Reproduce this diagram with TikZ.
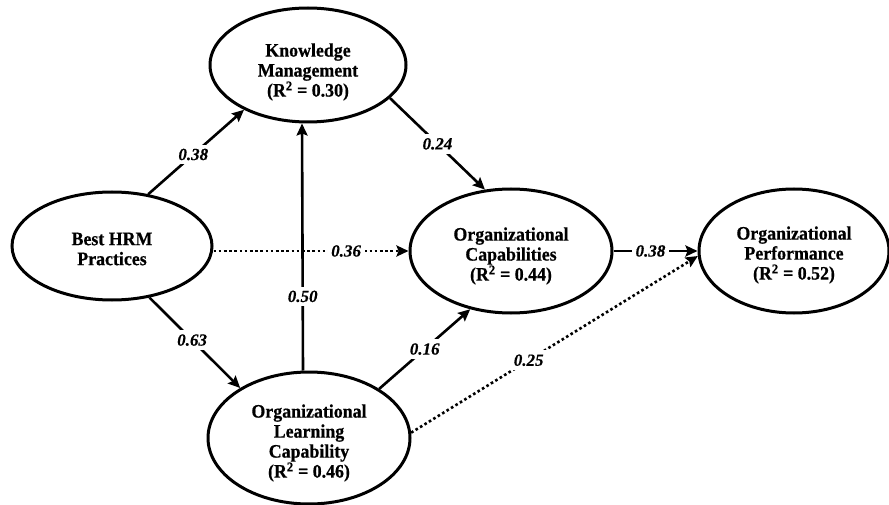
\documentclass[tikz,border=0pt]{standalone}
\usepackage{fontspec}
\setmainfont{Liberation Serif}
\newfontfamily\nodefont[FakeBold=0.6,FakeStretch=0.94]{Liberation Serif Bold}
\newfontfamily\coeffont[FakeBold=0.4]{Liberation Serif Bold Italic}
\usetikzlibrary{arrows.meta,shapes.geometric}
\begin{document}
\begin{tikzpicture}[x=1pt,y=-1pt,
  construct/.style={ellipse, draw, line width=3pt, inner sep=0pt},
  ctext/.style={align=center, inner sep=0pt, font=\fontsize{19}{20}\nodefont},
  pathln/.style={line width=2.6pt, -{Stealth[length=12pt,width=11pt,inset=2pt]}},
  dotln/.style={pathln, dash pattern=on 2.6pt off 2.6pt},
  coef/.style={fill=white, inner xsep=4pt, inner ysep=4pt,
    font=\fontsize{17}{18}\coeffont}]
\useasboundingbox (0,0) rectangle (889,505);
\node[construct, minimum width=196pt, minimum height=114pt] (kma) at (308,65) {};
\node[ctext] (kmat) at (308,72) {Knowledge\\Management\\(R\textsuperscript{2} = 0.30)};
\node[construct, minimum width=200pt, minimum height=108pt] (hrm) at (112,246) {};
\node[ctext] (hrmt) at (112,249) {Best HRM\\Practices};
\node[construct, minimum width=202pt, minimum height=124pt] (oc) at (511,251) {};
\node[ctext] (oct) at (511,256) {Organizational\\Capabilities\\(R\textsuperscript{2} = 0.44)};
\node[construct, minimum width=190pt, minimum height=124pt] (op) at (794,251) {};
\node[ctext] (opt) at (794,255) {Organizational\\Performance\\(R\textsuperscript{2} = 0.52)};
\node[construct, minimum width=202pt, minimum height=132pt] (olc) at (309,438) {};
\node[ctext] (olct) at (309,443) {Organizational\\Learning\\Capability\\(R\textsuperscript{2} = 0.46)};

\draw[pathln] (hrm.55) -- node[coef, pos=0.47] {0.38} (kma.215);
\draw[pathln] (kma.338) -- node[coef, pos=0.5] {0.24} (oc.113);
\draw[dotln] (hrm.east |- oc.west) -- node[coef, pos=0.68] {0.36} (oc.west);
\draw[pathln] (hrm.306) -- node[coef, pos=0.47] {0.63} (olc.144);
\draw[pathln] ([xshift=-6pt]olc.north) -- node[coef, pos=0.3] {0.50} ([xshift=-6pt]kma.south);
\draw[pathln] (olc.35) -- node[coef, pos=0.5] {0.16} (oc.235);
\draw[pathln] (oc.east) -- node[coef, pos=0.44] {0.38} (op.west);
\draw[dotln] (olc.3) -- node[coef, pos=0.41] {0.25} (op.183);
\end{tikzpicture}
\end{document}
